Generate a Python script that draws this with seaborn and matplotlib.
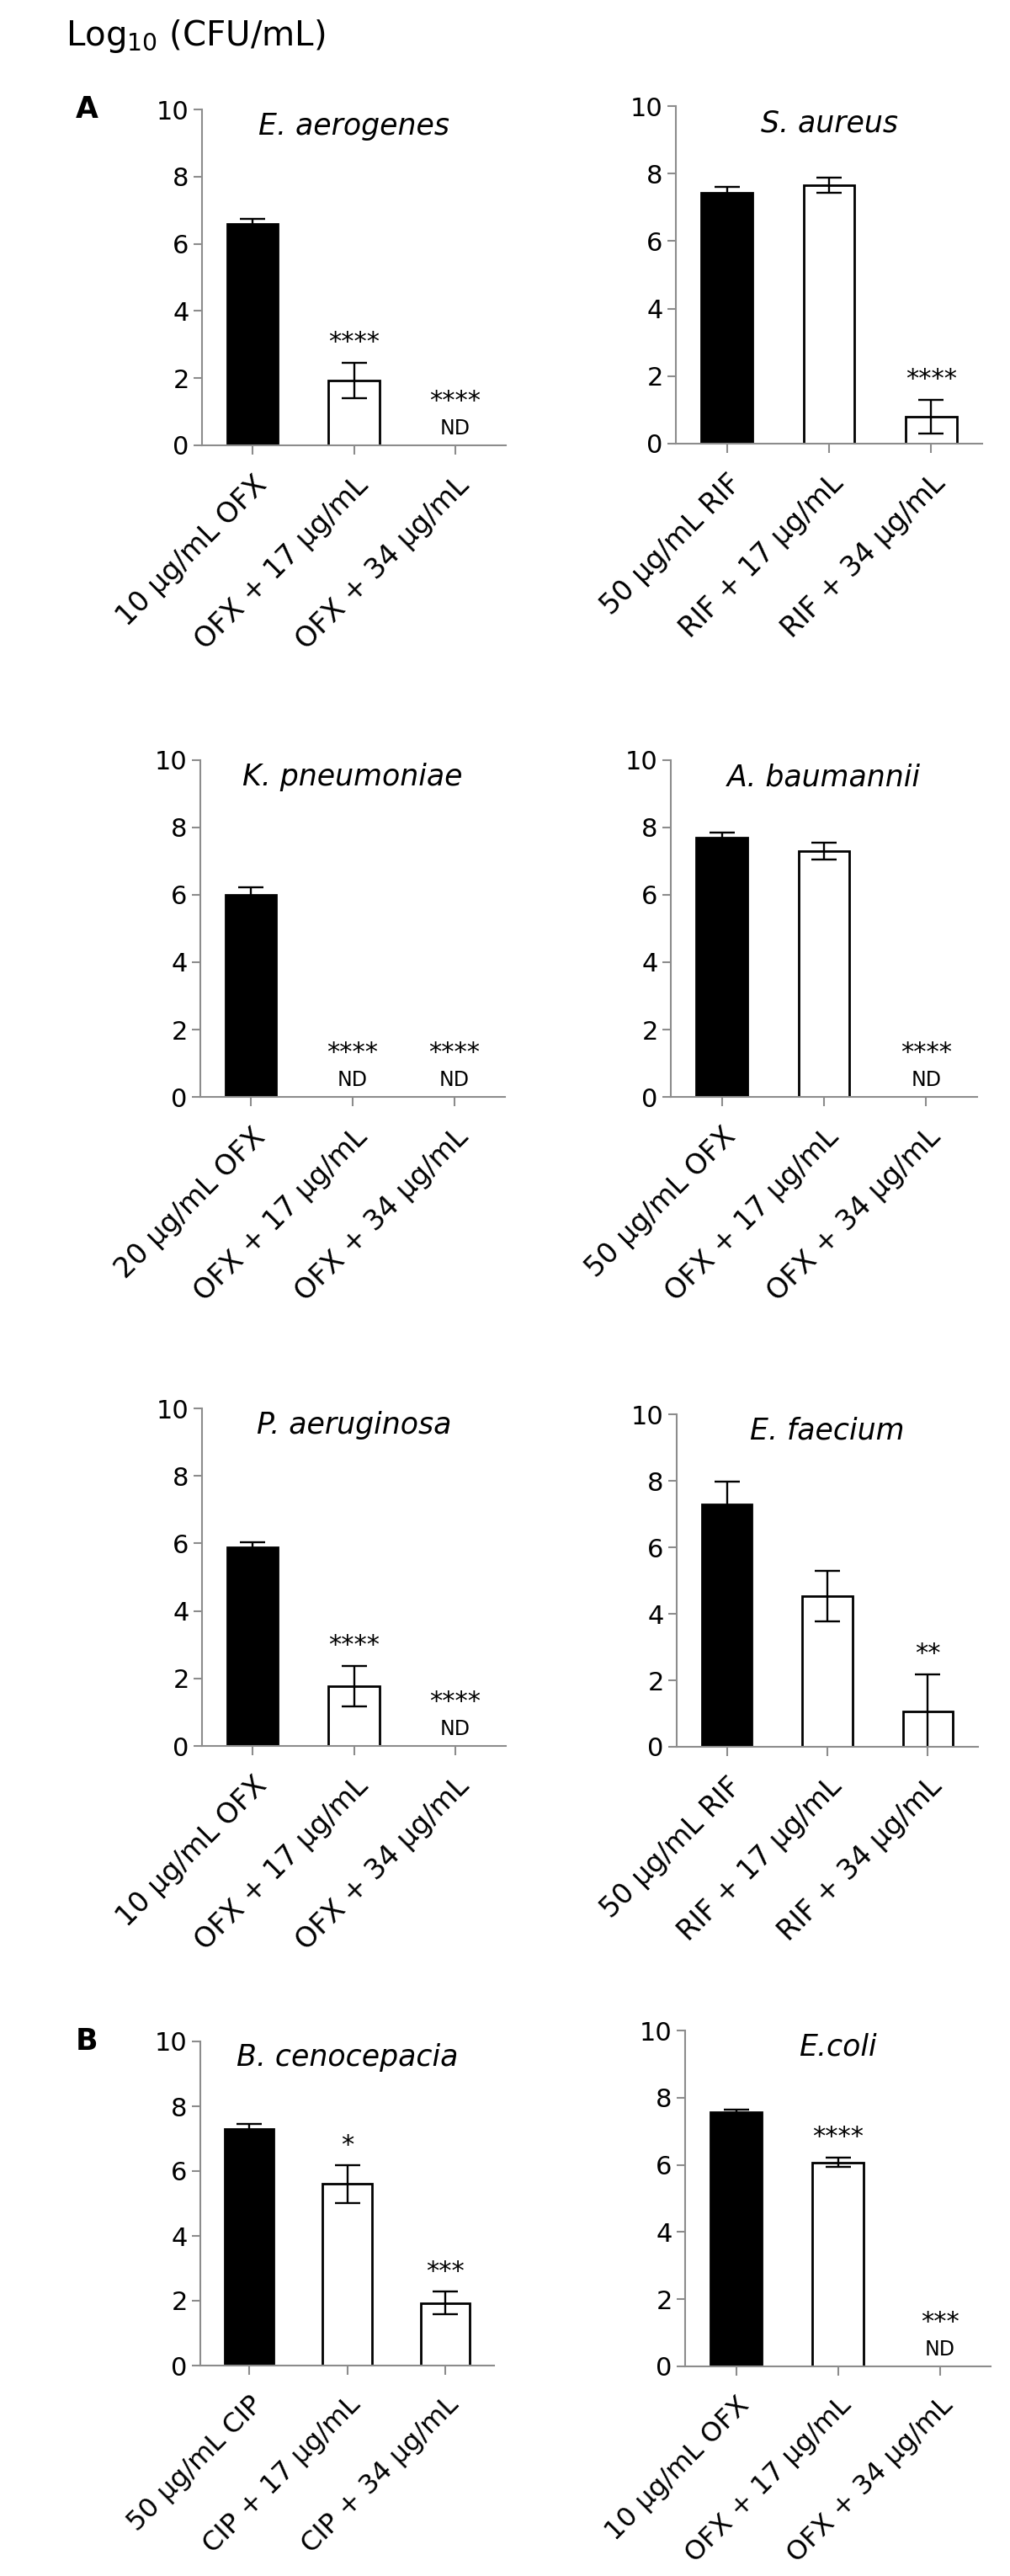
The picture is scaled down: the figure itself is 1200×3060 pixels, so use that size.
import matplotlib
matplotlib.use("Agg")
import matplotlib.pyplot as plt
import seaborn as sns
import numpy as np

# ---- data ----
species = ["E. aerogenes", "S. aureus", "K. pneumoniae", "A. baumannii",
           "P. aeruginosa", "E. faecium", "B. cenocepacia", "E.coli"]

tick_labels = [
    ["10 μg/mL OFX", "OFX + 17 μg/mL", "OFX + 34 μg/mL"],
    ["50 μg/mL RIF", "RIF + 17 μg/mL", "RIF + 34 μg/mL"],
    ["20 μg/mL OFX", "OFX + 17 μg/mL", "OFX + 34 μg/mL"],
    ["50 μg/mL OFX", "OFX + 17 μg/mL", "OFX + 34 μg/mL"],
    ["10 μg/mL OFX", "OFX + 17 μg/mL", "OFX + 34 μg/mL"],
    ["50 μg/mL RIF", "RIF + 17 μg/mL", "RIF + 34 μg/mL"],
    ["50 μg/mL CIP", "CIP + 17 μg/mL", "CIP + 34 μg/mL"],
    ["10 μg/mL OFX", "OFX + 17 μg/mL", "OFX + 34 μg/mL"],
]

means = [
    [6.58, 1.93, 0.0],
    [7.42, 7.65, 0.80],
    [6.00, 0.0, 0.0],
    [7.71, 7.29, 0.0],
    [5.89, 1.78, 0.0],
    [7.30, 4.53, 1.07],
    [7.30, 5.60, 1.93],
    [7.56, 6.07, 0.0],
]

errs = [
    [0.15, 0.52, 0.0],
    [0.19, 0.23, 0.50],
    [0.22, 0.0, 0.0],
    [0.15, 0.25, 0.0],
    [0.14, 0.60, 0.0],
    [0.67, 0.75, 1.11],
    [0.16, 0.58, 0.35],
    [0.09, 0.14, 0.0],
]

sig = [
    ["", "****", "****"],
    ["", "", "****"],
    ["", "****", "****"],
    ["", "", "****"],
    ["", "****", "****"],
    ["", "", "**"],
    ["", "*", "***"],
    ["", "****", "***"],
]

nd = [
    [False, False, True],
    [False, False, False],
    [False, True, True],
    [False, False, True],
    [False, False, True],
    [False, False, False],
    [False, False, False],
    [False, False, True],
]

panel_letters = {0: "A", 6: "B"}

# ---- style ----
sns.set_style("ticks")
plt.rcParams['font.family'] = ['DejaVu Sans']
plt.rcParams['mathtext.default'] = 'regular'
plt.rcParams['text.color'] = 'black'
plt.rcParams['xtick.labelcolor'] = 'black'
plt.rcParams['ytick.labelcolor'] = 'black'

W, H = 1200, 3060
fig = plt.figure(figsize=(W / 100, H / 100), dpi=100)

# axes boxes in pixels: left, top, right, bottom
boxes = [(240, 130, 601, 529), (803, 126, 1167, 527),
         (238, 903, 600, 1303), (797, 903, 1161, 1303),
         (240, 1673, 601, 2074), (804, 1680, 1162, 2075),
         (238, 2425, 587, 2810), (814, 2412, 1177, 2811)]

spine_col = "#8c8c8c"
bar_colors = ["black", "white", "white"]

for i, (l, t, r, b) in enumerate(boxes):
    ax = fig.add_axes([l / W, 1 - b / H, (r - l) / W, (b - t) / H])
    labels = tick_labels[i]
    sns.barplot(x=labels, y=means[i], hue=labels, order=labels, hue_order=labels,
                palette=bar_colors, saturation=1, edgecolor="black", linewidth=2,
                width=0.5, legend=False, errorbar=None, ax=ax)
    # hide empty (ND) bars
    for p in ax.patches:
        if p.get_height() == 0:
            p.set_visible(False)

    m = np.array(means[i])
    e = np.array(errs[i])
    idx = np.where(e > 0)[0]
    ax.errorbar(idx, m[idx], yerr=e[idx], fmt="none", ecolor="black",
                elinewidth=1.7, capsize=11, capthick=1.7)

    for j in range(3):
        if nd[i][j]:
            ax.text(j, 0.33, "ND", ha="center", va="baseline", fontsize=17)
            if sig[i][j]:
                ax.text(j, 1.1, sig[i][j], ha="center", va="baseline", fontsize=22)
        elif sig[i][j]:
            ax.text(j, m[j] + e[j] + 0.4, sig[i][j], ha="center", va="baseline", fontsize=22)

    ax.text(0.5, 0.95, species[i], transform=ax.transAxes, ha="center", va="center",
            fontsize=25, fontstyle="italic")

    # bottom row labels are set a little smaller in the source figure
    lab_size = 24 if i < 6 else 23
    ax.set_ylim(0, 10)
    ax.set_xlim(-0.5, 2.5)
    ax.set_yticks([0, 2, 4, 6, 8, 10])
    ax.set_xticks(range(3))
    ax.set_xticklabels(labels, rotation=45, ha="right", rotation_mode="anchor", fontsize=lab_size)
    ax.set_xlabel("")
    ax.set_ylabel("")
    sns.despine(ax=ax)
    for s in ["left", "bottom"]:
        ax.spines[s].set_color(spine_col)
        ax.spines[s].set_linewidth(1.5)
    ax.tick_params(axis="y", length=7, width=1.5, color=spine_col, labelsize=22, pad=4)
    ax.tick_params(axis="x", length=8, width=1.5, color=spine_col, pad=14)

    if i in panel_letters:
        fig.text(90 / W, 1 - (t + 10) / H, panel_letters[i], fontsize=25,
                 fontweight="bold", va="baseline", ha="left")

fig.text(78 / W, 1 - 54 / H, r"Log$_{10}$ (CFU/mL)", fontsize=29, va="baseline", ha="left")

fig.savefig("out.png", dpi=100, facecolor="white")
